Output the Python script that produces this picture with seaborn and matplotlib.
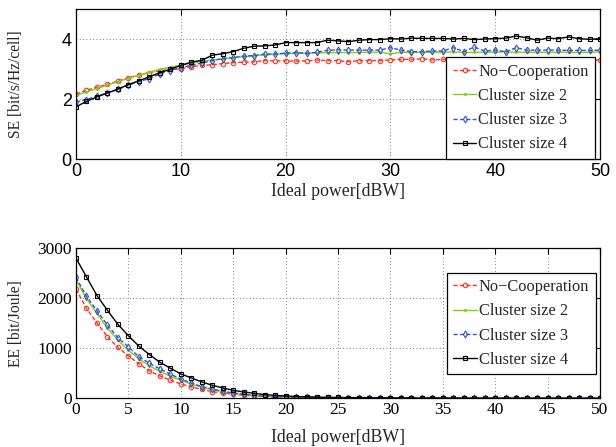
import numpy as np
import pandas as pd
import matplotlib
matplotlib.use("Agg")
import matplotlib.pyplot as plt
import seaborn as sns

power = list(range(0, 51))

se_noncoop = [2.16,2.29,2.39,2.49,2.60,2.71,2.80,2.88,2.94,2.99,3.00,3.08,3.12,3.14,3.18,3.21,3.23,3.24,3.28,3.27,3.27,3.26,3.27,3.30,3.28,
              3.28,3.24,3.28,3.28,3.28,3.30,3.32,3.32,3.34,3.30,3.32,3.29,3.30,3.28,3.29,3.30,3.30,3.29,3.30,3.28,3.30,3.29,3.30,3.29,3.30,3.30]
se_cl2 = [2.12,2.24,2.35,2.46,2.58,2.69,2.79,2.89,2.99,3.06,3.13,3.19,3.25,3.30,3.34,3.38,3.41,3.44,3.47,3.49,3.51,3.52,3.53,3.54,3.54,
          3.55,3.55,3.55,3.56,3.56,3.50,3.56,3.55,3.56,3.56,3.56,3.57,3.55,3.56,3.56,3.56,3.57,3.56,3.56,3.56,3.55,3.56,3.56,3.55,3.56,3.57]
se_cl3 = [1.90,1.98,2.10,2.20,2.32,2.46,2.58,2.68,2.84,2.95,3.05,3.12,3.20,3.28,3.34,3.38,3.43,3.45,3.50,3.50,3.53,3.55,3.52,3.56,3.62,
          3.64,3.63,3.63,3.63,3.63,3.71,3.63,3.58,3.58,3.60,3.60,3.71,3.58,3.73,3.60,3.63,3.58,3.71,3.63,3.63,3.63,3.63,3.62,3.62,3.62,3.63]
se_cl4 = [1.74,1.92,2.07,2.20,2.33,2.48,2.61,2.74,2.88,2.99,3.12,3.23,3.29,3.46,3.51,3.58,3.69,3.76,3.77,3.80,3.88,3.88,3.88,3.88,3.96,
          3.94,3.91,3.96,3.98,3.98,4.01,4.00,4.03,4.02,4.02,4.02,4.00,4.02,3.98,4.00,4.01,4.03,4.10,4.04,3.96,4.03,4.01,4.07,4.01,3.99,4.01]

ee_noncoop = [2181,1799,1505,1231,1017,849,689,548,448,361,288,227,181,134,107,80,60,47,33,26,20,15,12,9,7,6,5,4,3,3,2,2,2,1,1,1,1,1,1,1,1,1,1,1,1,1,1,1,1,1,1]
ee_cl2 = [2370,1990,1700,1400,1160,960,790,650,540,440,360,285,222,172,132,100,76,57,43,32,25,19,15,11,9,7,6,5,4,3,3,2,2,2,1,1,1,1,1,1,1,1,1,1,1,1,1,1,1,1,1]
ee_cl3 = [2421,2040,1753,1465,1211,1030,829,702,589,482,388,308,234,187,140,107,80,60,47,33,27,21,17,13,10,8,7,6,5,4,3,3,2,2,2,2,1,1,1,1,1,1,1,1,1,1,1,1,1,1,1]
ee_cl4 = [2803,2428,2054,1759,1478,1251,1043,876,722,602,488,408,328,261,207,160,127,100,74,60,47,36,30,25,20,17,14,12,10,9,8,7,6,5,5,4,4,3,3,3,2,2,2,2,2,1,1,1,1,1,1]

labels = ["No\u2212Cooperation", "Cluster size 2", "Cluster size 3", "Cluster size 4"]
se_ticks_x = [0, 10, 20, 30, 40, 50]
se_ticks_y = [0, 2, 4]
ee_ticks_x = [0, 5, 10, 15, 20, 25, 30, 35, 40, 45, 50]
ee_ticks_y = [0, 1000, 2000, 3000]

sns.set_theme(style="white")
plt.rcParams['font.family'] = ['Liberation Serif', 'DejaVu Serif']

palette = {labels[0]: "#ff3322", labels[1]: "#80cc1a", labels[2]: "#3355cc", labels[3]: "black"}
markers = {labels[0]: "o", labels[1]: ".", labels[2]: "d", labels[3]: "s"}
dashes = {labels[0]: (3, 1.6), labels[1]: "", labels[2]: (3, 1.6), labels[3]: ""}
msize = {labels[0]: 3.2, labels[1]: 2.6, labels[2]: 3.5, labels[3]: 2.9}


def long_df(series):
    rows = []
    for lab, vals in zip(labels, series):
        for p, v in zip(power, vals):
            rows.append((p, v, lab))
    return pd.DataFrame(rows, columns=["power", "value", "series"])


fig = plt.figure(figsize=(6.16, 4.47), dpi=100)
ax1 = fig.add_axes([76/616, 1-159/447, 524/616, 150/447])
ax2 = fig.add_axes([76/616, 1-398.3/447, 524/616, 150/447])


def style_lines(ax):
    handles = []
    for line, lab in zip(ax.lines[:4], labels):
        line.set_markersize(msize[lab])
        line.set_linewidth(1.0)
        line.set_markeredgecolor(palette[lab])
        line.set_markeredgewidth(0.8)
        if lab != labels[1]:
            line.set_markerfacecolor("none")
        line.set_label(lab)
        handles.append(line)
    return handles


for ax, series, anchor in [(ax1, [se_noncoop, se_cl2, se_cl3, se_cl4], (0.9905, 0.0)),
                           (ax2, [ee_noncoop, ee_cl2, ee_cl3, ee_cl4], (0.992, 0.16))]:
    sns.lineplot(data=long_df(series), x="power", y="value", hue="series", style="series",
                 palette=palette, markers=markers, dashes=dashes, ax=ax, legend=False,
                 hue_order=labels, style_order=labels)
    handles = style_lines(ax)
    ax.set_xlim(0, 50)
    ax.grid(True, linestyle=(0, (1, 3)), color="#555555", linewidth=0.6)
    ax.tick_params(direction="in", top=True, right=True, length=4, width=0.8, colors="black", pad=3)
    for sp in ax.spines.values():
        sp.set_color("black")
        sp.set_linewidth(0.9)
    leg = ax.legend(handles=handles, labels=labels, loc="lower right", bbox_to_anchor=anchor,
                    fontsize=11.8, frameon=True, fancybox=False, framealpha=1,
                    handlelength=1.45, handletextpad=0.1, borderpad=0.4, labelspacing=0.5,
                    borderaxespad=0.0)
    leg.get_frame().set_edgecolor("black")
    leg.get_frame().set_linewidth(0.9)

ax1.set_ylim(0, 5)
ax1.set_xticks(se_ticks_x)
ax1.set_yticks(se_ticks_y)
for t in ax1.get_xticklabels() + ax1.get_yticklabels():
    t.set_fontfamily(['Liberation Sans', 'DejaVu Sans'])
    t.set_fontsize(13)
ax1.set_xlabel("Ideal power[dBW]", fontsize=12.8)
ax1.set_ylabel("SE [bit/s/Hz/cell]", fontsize=11.2)
ax1.xaxis.set_label_coords(0.5, -0.16)
ax1.yaxis.set_label_coords(-0.10, 0.5)

ax2.set_ylim(0, 3000)
ax2.set_xticks(ee_ticks_x)
ax2.set_yticks(ee_ticks_y)
for t in ax2.get_xticklabels() + ax2.get_yticklabels():
    t.set_fontsize(12.5)
ax2.set_xlabel("Ideal power[dBW]", fontsize=12.8)
ax2.set_ylabel("EE [bit/Joule]", fontsize=11.2)
ax2.xaxis.set_label_coords(0.5, -0.205)
ax2.yaxis.set_label_coords(-0.10, 0.5)

fig.savefig("out.png", dpi=100)
